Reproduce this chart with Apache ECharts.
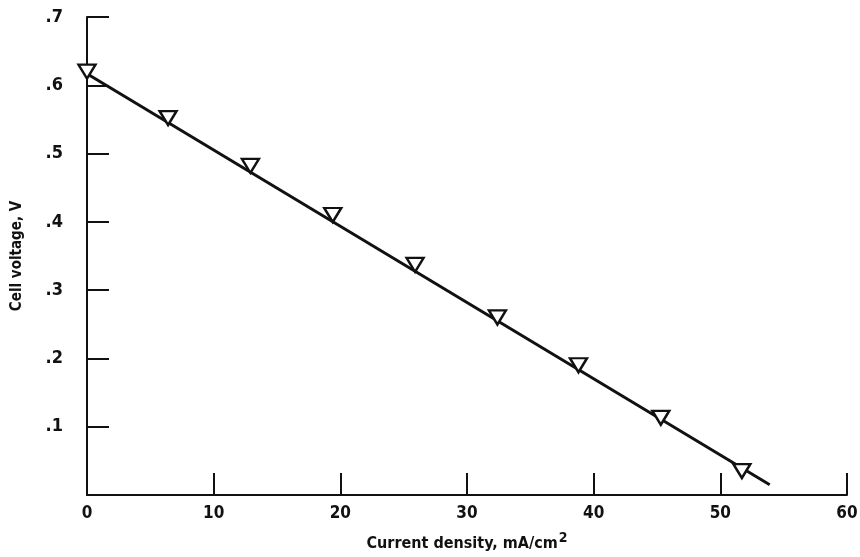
<!DOCTYPE html>
<html>
<head>
<meta charset="utf-8">
<script src="https://cdn.jsdelivr.net/npm/echarts@6/dist/echarts.min.js"></script>
<style>html,body{margin:0;padding:0;background:#fff}#c{width:860px;height:557px}</style>
</head>
<body>
<div id="c"></div>
<script>
// Data
const currentDensity = [0, 6.4, 12.9, 19.4, 25.9, 32.4, 38.8, 45.3, 51.7];
const cellVoltage = [0.62, 0.552, 0.482, 0.41, 0.337, 0.26, 0.19, 0.113, 0.035];
const fitX = [0, 53.9];
const fitY = [0.617, 0.015];
const xTickLabels = ['0', '10', '20', '30', '40', '50', '60'];
const yTickLabels = ['', '.1', '.2', '.3', '.4', '.5', '.6', '.7'];

const FONT = '"DejaVu Sans Condensed", "Liberation Sans Narrow", "DejaVu Sans", sans-serif';
const chart = echarts.init(document.getElementById('c'));
chart.setOption({
  animation: false,
  backgroundColor: '#fff',
  grid: { left: 87, right: 13, top: 17, bottom: 62, containLabel: false, outerBoundsMode: 'none' },
  xAxis: {
    type: 'value', min: 0, max: 60, interval: 10,
    name: '{a|Current density, mA/cm}{s|2}',
    nameLocation: 'middle', nameGap: 36,
    nameTextStyle: {
      rich: {
        a: { fontFamily: FONT, fontSize: 16, fontWeight: 'bold', color: '#111' },
        s: { fontFamily: FONT, fontSize: 14, fontWeight: 'bold', color: '#111', verticalAlign: 'top', padding: [0, 0, 12, 1] }
      }
    },
    axisLine: { show: true, lineStyle: { color: '#111', width: 2 } },
    axisTick: { show: true, inside: true, length: 22, lineStyle: { color: '#111', width: 2 } },
    axisLabel: { formatter: (v) => xTickLabels[Math.round(v / 10)], fontFamily: FONT, fontSize: 17, fontWeight: 'bold', color: '#111', margin: 10 },
    splitLine: { show: false }
  },
  yAxis: {
    type: 'value', min: 0, max: 0.7, interval: 0.1,
    name: 'Cell voltage, V', nameLocation: 'middle', nameGap: 62, nameRotate: 90,
    nameTextStyle: { fontFamily: FONT, fontSize: 15, fontWeight: 'bold', color: '#111' },
    axisLine: { show: true, lineStyle: { color: '#111', width: 2 } },
    axisTick: { show: true, inside: true, length: 22, lineStyle: { color: '#111', width: 2 } },
    axisLabel: { formatter: (v) => yTickLabels[Math.round(v * 10)], fontFamily: FONT, fontSize: 18, fontWeight: 'bold', color: '#111', margin: 24 },
    splitLine: { show: false }
  },
  series: [
    {
      type: 'line',
      data: fitX.map((x, i) => [x, fitY[i]]),
      symbol: 'none',
      lineStyle: { color: '#111', width: 3 },
      z: 2
    },
    {
      type: 'scatter',
      data: currentDensity.map((x, i) => [x, cellVoltage[i]]),
      symbol: 'triangle', symbolRotate: 180, symbolSize: [17, 14],
      itemStyle: { color: '#fff', borderColor: '#111', borderWidth: 2.4, opacity: 1 },
      z: 3
    }
  ]
});
</script>
</body>
</html>
